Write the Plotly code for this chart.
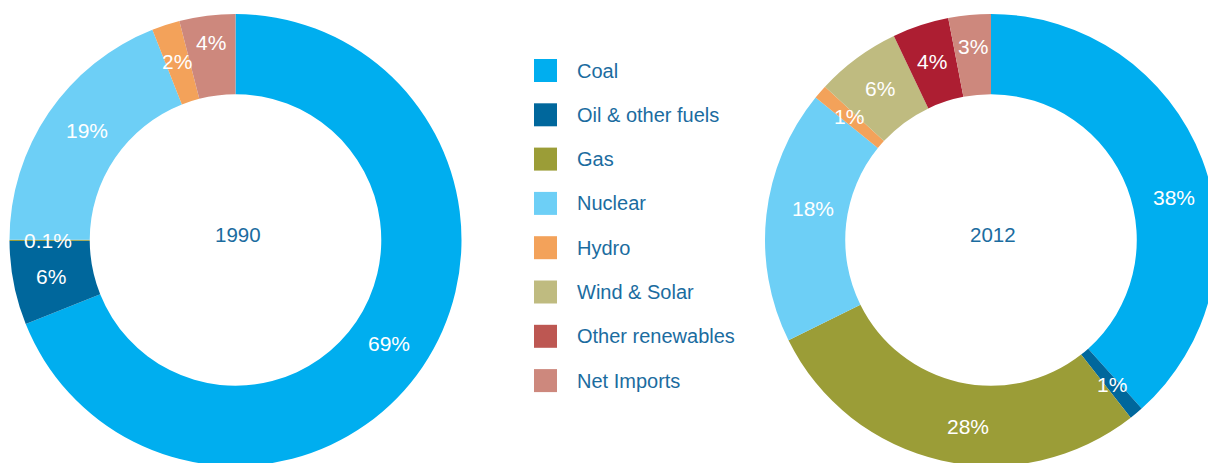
import math
import plotly.graph_objects as go

# Electricity supply mix, share of total (%)
sources = ["Coal", "Oil & other fuels", "Gas", "Nuclear", "Hydro",
           "Wind & Solar", "Other renewables", "Net Imports"]
share_1990 = [69, 6, 0.1, 19, 2, 0, 0, 4]
share_2012 = [38, 1, 28, 18, 1, 6, 4, 3]
years = ["1990", "2012"]

slice_colors = ["#00AEEF", "#00679C", "#9B9D37", "#6DCFF6", "#F3A25A",
                "#BFBB80", "#AD1E32", "#CD887D"]
legend_colors = ["#00AEEF", "#00679C", "#9B9D37", "#6DCFF6", "#F3A25A",
                 "#BFBB80", "#BD5752", "#CD887D"]

W, H = 1218, 466
FONT = "Liberation Sans, Arial, sans-serif"
TEXT_BLUE = "#1B6C9F"
HOLE = 0.645
R_OUT = 226
R_LABEL = 188

# (year, source) -> angular shift of the value label, as a fraction of a turn
label_shift = {("2012", "Coal"): 0.022, ("2012", "Gas"): -0.016,
               ("2012", "Nuclear"): 0.01, ("1990", "Nuclear"): 0.006}
label_radius = {("1990", "Net Imports"): 199, ("2012", "Net Imports"): 194,
                ("1990", "Coal"): 185, ("2012", "Nuclear"): 181,
                ("1990", "Nuclear"): 184}


def px_x(v):
    return v / W


def px_y(v):
    return 1 - v / H


def ring(values, cx, cy):
    r = R_OUT
    return go.Pie(
        labels=sources,
        values=values,
        sort=False,
        direction="clockwise",
        rotation=0,
        hole=HOLE,
        marker=dict(colors=slice_colors, line=dict(width=0)),
        textinfo="none",
        domain=dict(x=[px_x(cx - r), px_x(cx + r)],
                    y=[px_y(cy + r), px_y(cy - r)]),
        showlegend=False,
        hoverinfo="label+percent",
    )


def value_labels(values, year, cx, cy):
    total = sum(values)
    out = []
    cum = 0.0
    for name, v in zip(sources, values):
        if v:
            frac = (cum + v / 2) / total + label_shift.get((year, name), 0.0)
            ang = 2 * math.pi * frac
            rr = label_radius.get((year, name), R_LABEL)
            x = cx + rr * math.sin(ang)
            y = cy - rr * math.cos(ang)
            out.append(dict(text=f"{v:g}%", xref="paper", yref="paper",
                            x=px_x(x), y=px_y(y), xanchor="center",
                            yanchor="middle", showarrow=False,
                            font=dict(family=FONT, size=21, color="white")))
        cum += v
    return out


centers = [(235.5, 240), (991, 240)]
fig = go.Figure()
annotations = []
for vals, year, (cx, cy) in zip([share_1990, share_2012], years, centers):
    fig.add_trace(ring(vals, cx, cy))
    annotations += value_labels(vals, year, cx, cy)
    annotations.append(dict(text=year, xref="paper", yref="paper",
                            x=px_x(cx + 2), y=px_y(cy - 5.5),
                            xanchor="center", yanchor="middle",
                            showarrow=False,
                            font=dict(family=FONT, size=20.5, color=TEXT_BLUE)))

# Legend column between the two rings
shapes = []
top, step, box = 70.5, 44.3, 23
for i, (name, col) in enumerate(zip(sources, legend_colors)):
    yc = top + i * step
    shapes.append(dict(type="rect", xref="paper", yref="paper",
                       x0=px_x(534), x1=px_x(534 + box),
                       y0=px_y(yc + box / 2), y1=px_y(yc - box / 2),
                       fillcolor=col, line=dict(width=0)))
    annotations.append(dict(text=name, xref="paper", yref="paper",
                            x=px_x(575), y=px_y(yc), xanchor="left",
                            yanchor="middle", showarrow=False,
                            font=dict(family=FONT, size=20, color=TEXT_BLUE)))

fig.update_layout(
    width=W, height=H,
    margin=dict(l=0, r=0, t=0, b=0),
    paper_bgcolor="white",
    plot_bgcolor="white",
    shapes=shapes,
    annotations=annotations,
)

fig.write_html("out.html")
